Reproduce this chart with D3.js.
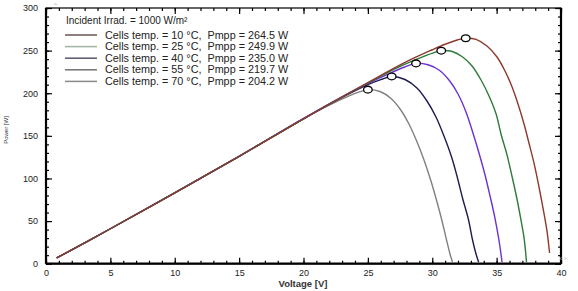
<!DOCTYPE html>
<html>
<head>
<meta charset="utf-8">
<script src="https://cdn.jsdelivr.net/npm/d3@7"></script>
<style>
    body { margin: 0; background: #fff; }
    text { font-family: "Liberation Sans", Arial, sans-serif; }
    .axis path { display: none; }
    .axis line { stroke: #000; stroke-width: 1.2; }
</style>
</head>
<body>
<div id="chart"></div>
<script>

// Chart values
var temps = [10, 25, 40, 55, 70];
var pmpp = [264.5, 249.9, 235.0, 219.7, 204.2];
var vmpp = [32.6, 30.7, 28.74, 26.85, 25.0];

var volt10 = [0.83, 5, 10, 15, 20, 25, 28, 30, 31.0, 32.0, 32.6, 33.4, 34.25, 35.03, 35.65, 36.2, 36.66, 37.13, 37.51, 37.9, 38.29, 38.6, 38.91, 39.11];
var pow10  = [6.7, 41, 83, 126, 170, 212.5, 237, 251, 257.5, 262.8, 264.5, 263.1, 255.4, 242.5, 226.1, 207.3, 187.4, 163.9, 141.6, 118.2, 90.0, 65.4, 38.4, 12.6];

var volt25 = [0.83, 5, 10, 15, 20, 25, 27.5, 29.3, 30.2, 30.7, 31.5, 32.31, 33.09, 33.79, 34.41, 34.96, 35.34, 35.81, 36.19, 36.58, 36.89, 37.13, 37.32];
var pow25  = [6.7, 41, 83, 126, 170, 212, 231.5, 243, 248, 249.9, 249.2, 243.1, 232.0, 215.5, 196.8, 175.6, 152.2, 127.5, 102.9, 75.9, 51.3, 30.2, 2];

var volt40 = [0.83, 5, 10, 15, 20, 24, 26.5, 27.8, 28.74, 29.67, 30.52, 31.30, 32.0, 32.62, 33.16, 33.63, 34.1, 34.49, 34.87, 35.18, 35.42];
var pow40  = [6.7, 41, 83, 126, 170.5, 204, 222, 230.5, 235, 233.4, 227.3, 215.5, 199.1, 178.0, 153.4, 129.9, 104.1, 79.4, 53.6, 27.8, 2];

var volt55 = [0.83, 5, 10, 15, 20, 23, 25, 26.0, 26.85, 27.88, 28.81, 29.59, 30.29, 30.91, 31.5, 31.96, 32.35, 32.82, 33.13, 33.4, 33.6];
var pow55  = [6.7, 41, 83, 126, 170, 195, 210, 216, 219.7, 216.1, 206.2, 190.9, 172.1, 149.8, 125.2, 100.6, 77.1, 51.3, 27.8, 11.4, 2];

var volt70 = [0.83, 5, 10, 15, 20, 22, 23.5, 24.4, 25.0, 25.94, 26.80, 27.50, 28.19, 28.82, 29.36, 29.9, 30.37, 30.76, 31.11, 31.38, 31.57];
var pow70  = [6.7, 41, 83, 126, 170, 186, 196.5, 201.8, 204.2, 202.0, 193.8, 181.5, 163.9, 142.8, 121.7, 97.0, 72.4, 50.1, 27.8, 11.4, 2];

var xTicks = [0, 5, 10, 15, 20, 25, 30, 35, 40];
var yTicks = [0, 50, 100, 150, 200, 250, 300];

var curveColors = ["#8b3a2c", "#2e7a3a", "#6a32d2", "#1c1c52", "#808080"];
var legendColors = ["#6a5656", "#a2b2a2", "#56566a", "#727272", "#8a8a8a"];

var series = [
    { v: volt10, p: pow10 },
    { v: volt25, p: pow25 },
    { v: volt40, p: pow40 },
    { v: volt55, p: pow55 },
    { v: volt70, p: pow70 }
];

var width = 578, height = 291;

var svg = d3.select("#chart").append("svg")
    .attr("width", width)
    .attr("height", height);

// Scales
var x = d3.scaleLinear().domain([0, 40]).range([46, 561]);
var y = d3.scaleLinear().domain([0, 300]).range([263.7, 8]);

// Minor ticks (bottom, top, left, right)
svg.append("g").attr("class", "axis")
    .attr("transform", "translate(0," + y(0) + ")")
    .call(d3.axisBottom(x).tickValues(d3.range(0, 41)).tickSize(-3).tickFormat(""));
svg.append("g").attr("class", "axis")
    .attr("transform", "translate(0," + y(300) + ")")
    .call(d3.axisTop(x).tickValues(d3.range(0, 41)).tickSize(-3).tickFormat(""));
svg.append("g").attr("class", "axis")
    .attr("transform", "translate(" + x(0) + ",0)")
    .call(d3.axisLeft(y).tickValues(d3.range(0, 301, 10)).tickSize(-3).tickFormat(""));
svg.append("g").attr("class", "axis")
    .attr("transform", "translate(" + x(40) + ",0)")
    .call(d3.axisRight(y).tickValues(d3.range(0, 301, 10)).tickSize(-3).tickFormat(""));

// Major ticks with labels
var xAxis = svg.append("g").attr("class", "axis")
    .attr("transform", "translate(0," + y(0) + ")")
    .call(d3.axisBottom(x).tickValues(xTicks).tickSize(-6).tickPadding(6));
xAxis.selectAll("text").style("font-size", "9px").attr("fill", "#222");

svg.append("g").attr("class", "axis")
    .attr("transform", "translate(0," + y(300) + ")")
    .call(d3.axisTop(x).tickValues(xTicks).tickSize(-6).tickFormat(""));

var yAxis = svg.append("g").attr("class", "axis")
    .attr("transform", "translate(" + x(0) + ",0)")
    .call(d3.axisLeft(y).tickValues(yTicks).tickSize(-6).tickPadding(8));
yAxis.selectAll("text").style("font-size", "9px").attr("fill", "#222");

svg.append("g").attr("class", "axis")
    .attr("transform", "translate(" + x(40) + ",0)")
    .call(d3.axisRight(y).tickValues(yTicks).tickSize(-6).tickFormat(""));

// Frame
svg.append("rect")
    .attr("x", x(0)).attr("y", y(300))
    .attr("width", x(40) - x(0)).attr("height", y(0) - y(300))
    .attr("fill", "none").attr("stroke", "#000").attr("stroke-width", 1.2);
svg.append("line")
    .attr("x1", x(0)).attr("x2", x(0)).attr("y1", y(300)).attr("y2", y(0))
    .attr("stroke", "#000").attr("stroke-width", 2.2);
svg.append("line")
    .attr("x1", x(0)).attr("x2", x(40)).attr("y1", y(0)).attr("y2", y(0))
    .attr("stroke", "#000").attr("stroke-width", 2.2);
svg.append("line")
    .attr("x1", x(40)).attr("x2", x(40)).attr("y1", y(300)).attr("y2", y(0))
    .attr("stroke", "#000").attr("stroke-width", 2.2);

// Curves
var line = d3.line()
    .x(function(d){ return x(d[0]); })
    .y(function(d){ return y(d[1]); })
    .curve(d3.curveCatmullRom);

// draw the hotter curves first so the cooler ones sit on top
series.slice().reverse().forEach(function(s, k){
    var i = series.length - 1 - k;
    var pts = s.v.map(function(v, j){ return [v, s.p[j]]; });
    svg.append("path")
        .attr("d", line(pts))
        .attr("fill", "none")
        .attr("stroke", curveColors[i])
        .attr("stroke-width", 1.4);
});

// MPP markers
svg.selectAll(".mpp")
    .data(pmpp)
    .enter().append("ellipse")
    .attr("class", "mpp")
    .attr("cx", function(d, i){ return x(vmpp[i]); })
    .attr("cy", function(d){ return y(d); })
    .attr("rx", 4.3)
    .attr("ry", 3.4)
    .attr("fill", "#fff")
    .attr("stroke", "#000")
    .attr("stroke-width", 1.3);

// Legend
svg.append("text")
    .attr("x", 66).attr("y", 24)
    .style("font-size", "10px").attr("fill", "#222")
    .text("Incident Irrad. = 1000 W/m²");

var legend = svg.selectAll(".legend")
    .data(temps)
    .enter().append("g")
    .attr("class", "legend")
    .attr("transform", function(d, i){ return "translate(0," + (35 + i * 11.6) + ")"; });

legend.append("line")
    .attr("x1", 65).attr("x2", 97)
    .attr("stroke", function(d, i){ return legendColors[i]; })
    .attr("stroke-width", 1.5);

legend.append("text")
    .attr("x", 105).attr("y", 3.6)
    .style("font-size", "10.8px").attr("fill", "#222")
    .attr("xml:space", "preserve")
    .text(function(d, i){ return "Cells temp. = " + d + " °C,  Pmpp = " + pmpp[i].toFixed(1) + " W"; });

// Axis titles
svg.append("text")
    .attr("x", 303).attr("y", 287)
    .attr("text-anchor", "middle")
    .style("font-size", "9.5px").style("font-weight", "bold").attr("fill", "#333")
    .text("Voltage [V]");

svg.append("text")
    .attr("transform", "translate(8,130) rotate(-90)")
    .attr("text-anchor", "middle")
    .style("font-size", "6px").attr("fill", "#333")
    .text("Power [W]");

// small scroll glyphs of the original viewer
svg.append("text")
    .attr("x", 55).attr("y", 9).attr("text-anchor", "middle")
    .style("font-size", "8px").attr("fill", "#bbb").text("⌃");
svg.append("text")
    .attr("x", 563).attr("y", 261).attr("text-anchor", "middle")
    .style("font-size", "7px").attr("fill", "#bbb").text("‹ ›");

</script>
</body>
</html>
